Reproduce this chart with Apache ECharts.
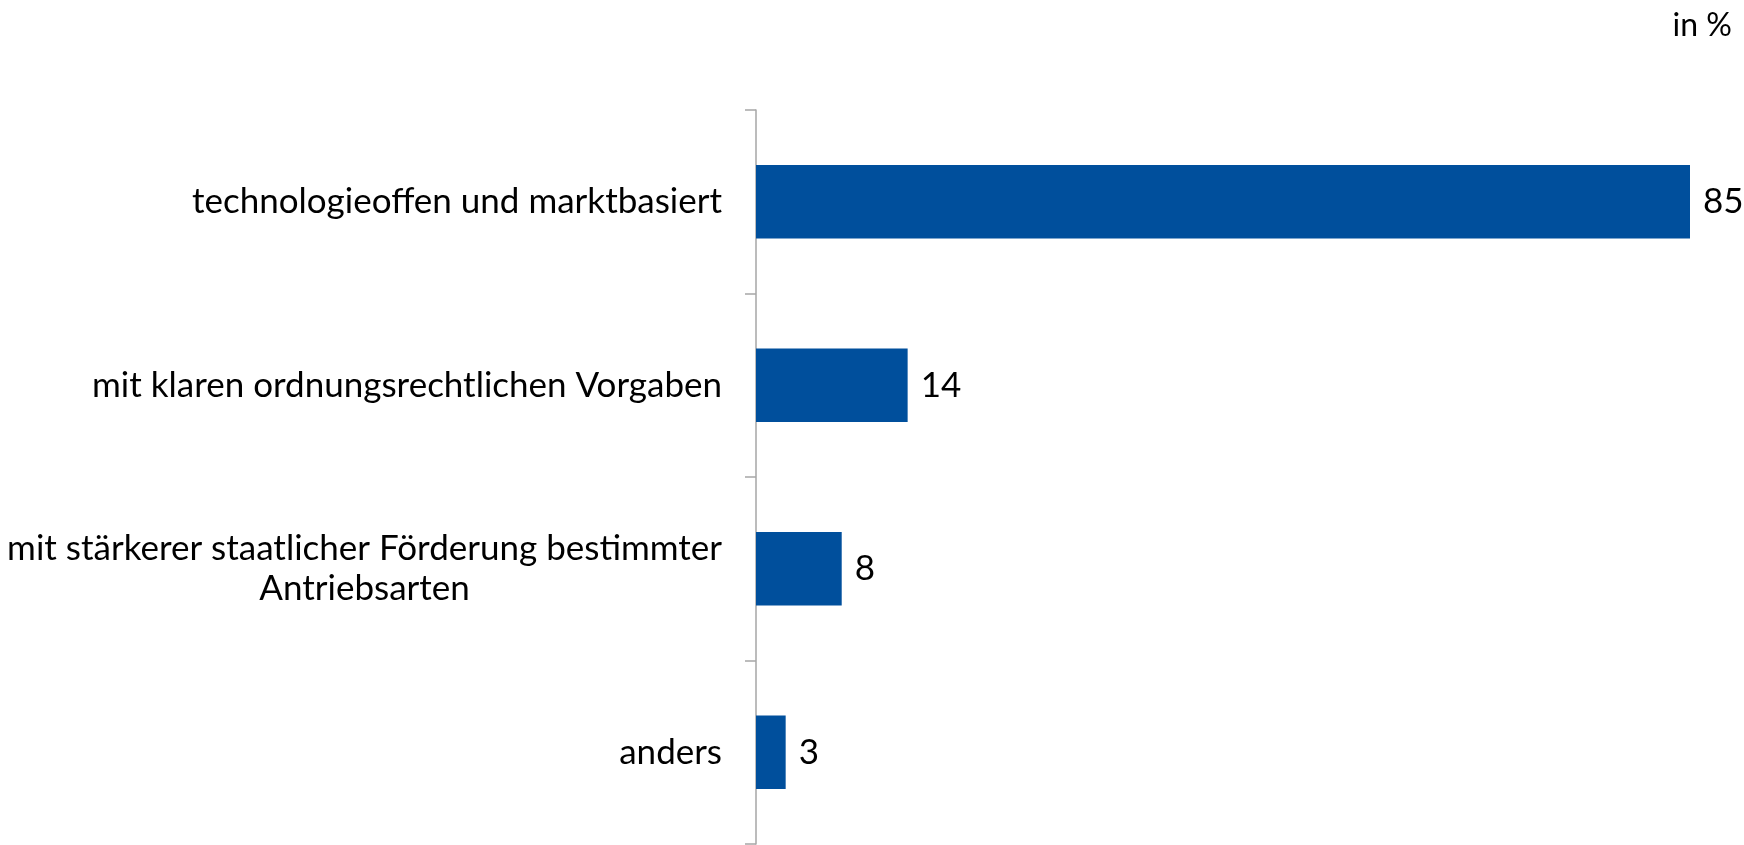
<!DOCTYPE html>
<html>
<head>
<meta charset="utf-8">
<script src="https://cdn.jsdelivr.net/npm/echarts@6/dist/echarts.min.js"></script>
<style>
  html, body { margin: 0; padding: 0; background: #fff; }
  #chart { width: 1744px; height: 845px; }
</style>
</head>
<body>
<div id="chart"></div>
<script>
const categories = [
  'technologieoffen und marktbasiert',
  'mit klaren ordnungsrechtlichen Vorgaben',
  'mit stärkerer staatlicher Förderung bestimmter\nAntriebsarten',
  'anders'
]
// bar lengths; labels show them rounded
const values = [85, 13.8, 7.8, 2.7]
const unitText = 'in %'

const FONT = 'Lato'
const chart = echarts.init(document.getElementById('chart'))
chart.setOption({
  animation: false,
  textStyle: { fontFamily: FONT },
  title: {
    text: unitText,
    right: 7,
    top: 5,
    textStyle: { fontFamily: FONT, fontSize: 32, fontWeight: 'normal', color: '#000' }
  },
  grid: { left: 756, right: 54, top: 110, bottom: 1 },
  xAxis: {
    type: 'value',
    min: 0,
    max: 85,
    show: false
  },
  yAxis: {
    type: 'category',
    inverse: true,
    data: categories,
    axisLine: { lineStyle: { color: '#a6a6a6', width: 1.5 } },
    axisTick: { show: true, interval: 0, length: 11, lineStyle: { color: '#a6a6a6', width: 1.5 } },
    axisLabel: {
      margin: 34,
      color: '#000',
      align: 'right',
      formatter: function (v) {
        return v.split('\n').map(function (s) { return '{c|' + s + '}' }).join('\n')
      },
      rich: {
        c: { align: 'center', fontSize: 35, lineHeight: 40, color: '#000', fontFamily: FONT }
      }
    }
  },
  series: [{
    type: 'bar',
    data: values,
    barCategoryGap: '60%',
    itemStyle: { color: '#004f9c' },
    label: {
      show: true,
      position: 'right',
      distance: 13,
      fontSize: 35,
      color: '#000',
      formatter: function (p) { return Math.round(p.value) }
    }
  }]
})
</script>
</body>
</html>
